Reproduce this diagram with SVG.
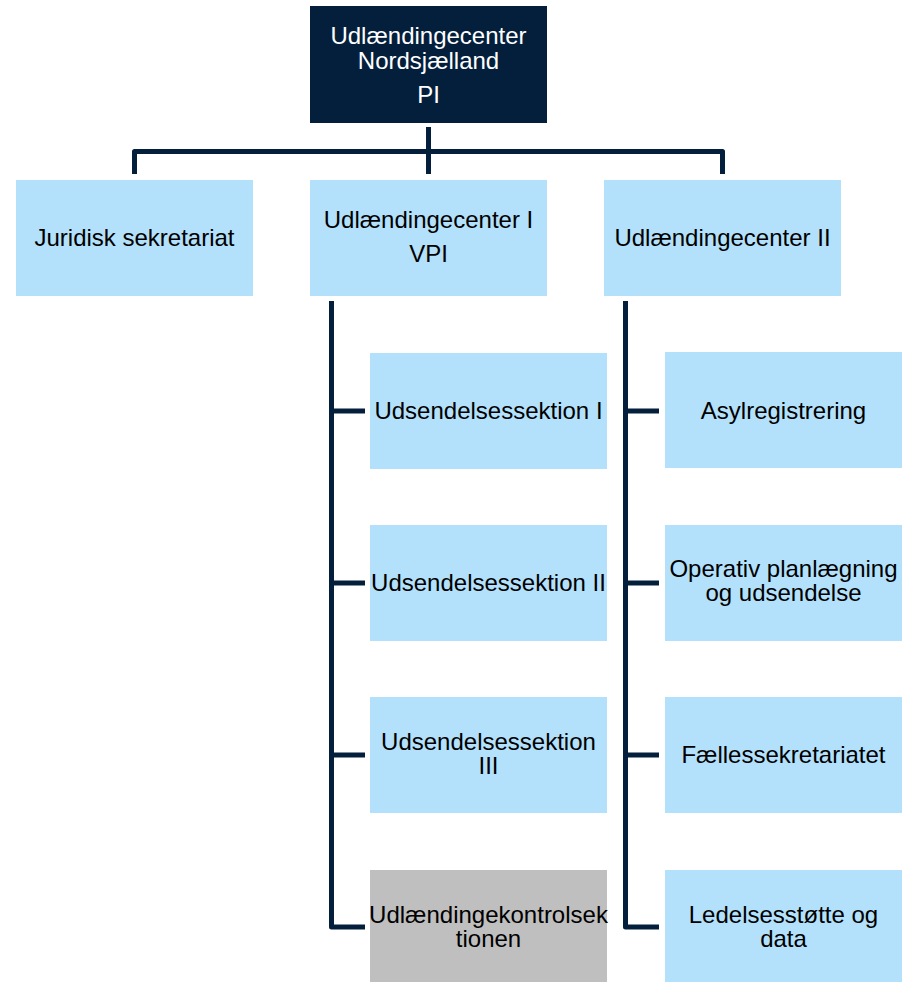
<svg xmlns="http://www.w3.org/2000/svg" width="905" height="982" viewBox="0 0 905 982">
<style>
.box{fill:#b3e1fc}
.grey{fill:#bfbfbf}
.dark{fill:#031f3c}
text{font-family:"Liberation Sans",Arial,sans-serif;font-size:24px;text-anchor:middle;fill:#000}
.w{fill:#fff}
.c{fill:none;stroke:#031f3c;stroke-width:5;stroke-linejoin:round}
</style>
<rect width="905" height="982" fill="#fff"/>
<g id="connectors">
<path class="c" d="M428.5 127V174"/>
<path class="c" d="M134.5 174V151.5H722.5V174"/>
<path class="c" d="M331.5 301V927H365"/>
<path class="c" d="M331.5 411H365M331.5 583H365M331.5 755H365"/>
<path class="c" d="M625.5 301V927H659"/>
<path class="c" d="M625.5 411H659M625.5 583H659M625.5 755H659"/>
</g>
<g id="n-top"><rect class="dark" x="310" y="6" width="237" height="117"/>
<text class="w" x="428.5" y="44">Udlændingecenter</text>
<text class="w" x="428.5" y="69">Nordsjælland</text>
<text class="w" x="428.5" y="103">PI</text></g>
<g id="n-jur"><rect class="box" x="16" y="180" width="237" height="116"/>
<text x="134.5" y="246">Juridisk sekretariat</text></g>
<g id="n-uc1"><rect class="box" x="310" y="180" width="237" height="116"/>
<text x="428.5" y="228">Udlændingecenter I</text>
<text x="428.5" y="262">VPI</text></g>
<g id="n-uc2"><rect class="box" x="604" y="180" width="237" height="116"/>
<text x="722.5" y="246">Udlændingecenter II</text></g>
<g id="n-us1"><rect class="box" x="370" y="353" width="237" height="116"/>
<text x="488.5" y="419">Udsendelsessektion I</text></g>
<g id="n-us2"><rect class="box" x="370" y="525" width="237" height="116"/>
<text x="488.5" y="591">Udsendelsessektion II</text></g>
<g id="n-us3"><rect class="box" x="370" y="697" width="237" height="116"/>
<text x="488.5" y="750">Udsendelsessektion</text>
<text x="488.5" y="774">III</text></g>
<g id="n-ukon"><rect class="grey" x="370" y="870" width="237" height="116"/>
<text x="488.5" y="923">Udlændingekontrolsek</text>
<text x="488.5" y="947">tionen</text></g>
<g id="n-asyl"><rect class="box" x="665" y="352" width="237" height="116"/>
<text x="783.5" y="419">Asylregistrering</text></g>
<g id="n-op"><rect class="box" x="665" y="525" width="237" height="116"/>
<text x="783.5" y="577">Operativ planlægning</text>
<text x="783.5" y="601">og udsendelse</text></g>
<g id="n-fs"><rect class="box" x="665" y="697" width="237" height="116"/>
<text x="783.5" y="763">Fællessekretariatet</text></g>
<g id="n-led"><rect class="box" x="665" y="870" width="237" height="116"/>
<text x="783.5" y="923">Ledelsesstøtte og</text>
<text x="783.5" y="947">data</text></g>
</svg>
